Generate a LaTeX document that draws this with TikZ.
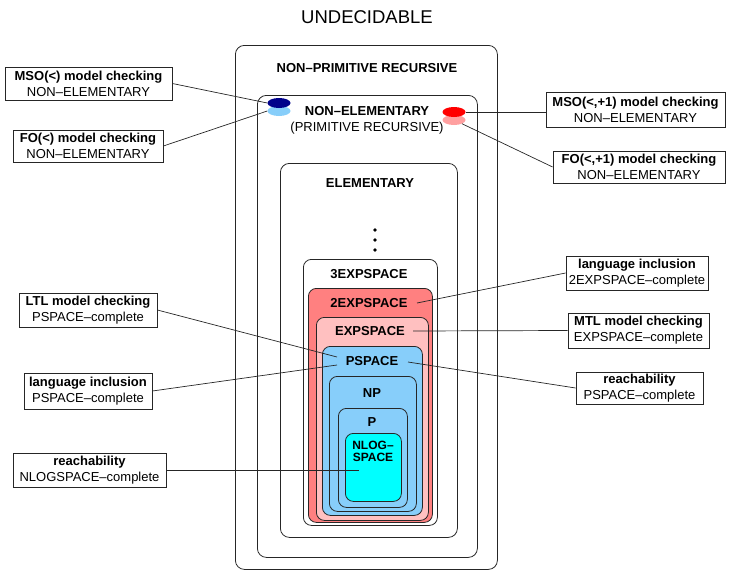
\documentclass[tikz,border=0pt]{standalone}
\usepackage{fontspec}
\setmainfont{Liberation Sans}
\usetikzlibrary{shapes.geometric}
\definecolor{exptwo}{HTML}{FF8080}
\definecolor{expone}{HTML}{FFC0C0}
\definecolor{pspc}{HTML}{87CEFA}
\definecolor{nlog}{HTML}{00FFFF}
\definecolor{msoblue}{HTML}{00008B}
\definecolor{foblue}{HTML}{87CEFA}
\definecolor{msored}{HTML}{FF0000}
\definecolor{fored}{HTML}{FFA0A0}
\begin{document}
\begin{tikzpicture}[x=1pt,y=-1pt,
  cls/.style={draw=black!85, line width=0.8pt, rounded corners=9pt,
              anchor=north west, inner sep=0pt},
  ttl/.style={font=\fontsize{13}{14}\selectfont\bfseries, inner sep=0pt},
  sub/.style={font=\fontsize{13}{14}\selectfont, inner sep=0pt},
  callout/.style={draw=black!85, line width=0.8pt, align=center,
                  font=\fontsize{13}{16}\selectfont, inner sep=0pt},
  dot/.style={ellipse, minimum width=23pt, minimum height=10pt, inner sep=0pt},
  link/.style={draw=black!85, line width=0.7pt}]

\useasboundingbox (0,0) rectangle (729,571);

% nested complexity classes
\node[cls, minimum width=262pt, minimum height=524pt] (npr) at (235,45) {};
\node[cls, minimum width=220pt, minimum height=462pt] (nel) at (257,95) {};
\node[cls, minimum width=177pt, minimum height=374pt] (elem) at (280,163) {};
\node[cls, minimum width=134pt, minimum height=266pt, rounded corners=8pt] (e3) at (303,259) {};
\node[cls, fill=exptwo, minimum width=124pt, minimum height=234pt, rounded corners=8pt] (e2) at (308,288) {};
\node[cls, fill=expone, minimum width=112pt, minimum height=203pt, rounded corners=8pt] (e1) at (316,317) {};
\node[cls, fill=pspc, minimum width=100pt, minimum height=169pt, rounded corners=8pt] (ps) at (322,346) {};
\node[cls, fill=pspc, minimum width=87pt, minimum height=135pt, rounded corners=8pt] (np) at (329,376) {};
\node[cls, fill=pspc, minimum width=69pt, minimum height=99pt, rounded corners=8pt] (pp) at (338,408) {};
\node[cls, fill=nlog, minimum width=56pt, minimum height=68pt, rounded corners=8pt] (nl) at (345,433) {};

% class titles
\node[font=\fontsize{18.5}{20}\selectfont, inner sep=0pt] (und) at (367,17) {UNDECIDABLE};
\node[ttl] (nprT) at (367,68) {NON–PRIMITIVE RECURSIVE};
\node[ttl] (nelT) at (367,111) {NON–ELEMENTARY};
\node[sub] (nelS) at (367,128) {(PRIMITIVE RECURSIVE)};
\node[ttl] (elemT) at (370,183) {ELEMENTARY};
\node[ttl] (e3T) at (369,274) {3EXPSPACE};
\node[ttl] (e2T) at (369,303) {2EXPSPACE};
\node[ttl] (e1T) at (370,331) {EXPSPACE};
\node[ttl] (psT) at (372,361) {PSPACE};
\node[ttl] (npT) at (372,393) {NP};
\node[ttl] (ppT) at (372,422) {P};
\node[ttl, font=\fontsize{12}{12}\selectfont\bfseries] (nlT1) at (373,445) {NLOG–};
\node[ttl, font=\fontsize{12}{12}\selectfont\bfseries] (nlT2) at (373,457) {SPACE};

% vertical ellipsis between ELEMENTARY and 3EXPSPACE
\foreach \yy/\nm in {230/da,240/db,250/dc}
  \node[circle, fill=black, minimum size=3.8pt, inner sep=0pt] (\nm) at (375,\yy) {};

% logic markers
\node[dot, fill=foblue] (foDot) at (279,111) {};
\node[dot, fill=msoblue] (msoDot) at (279,103) {};
\node[dot, fill=fored] (fo1Dot) at (454,120) {};
\node[dot, fill=msored] (mso1Dot) at (454,112) {};

% problem callouts
\node[callout, minimum width=167pt, minimum height=33pt] (mso) at (88.5,83.5)
  {\textbf{MSO(<) model checking}\\NON–ELEMENTARY};
\node[callout, minimum width=150pt, minimum height=32pt] (fo) at (88,146)
  {\textbf{FO(<) model checking}\\NON–ELEMENTARY};
\node[callout, minimum width=179pt, minimum height=35pt] (mso1) at (635.5,109.5)
  {\textbf{MSO(<,+1) model checking}\\NON–ELEMENTARY};
\node[callout, minimum width=172pt, minimum height=32pt] (fo1) at (639,167)
  {\textbf{FO(<,+1) model checking}\\NON–ELEMENTARY};
\node[callout, minimum width=142pt, minimum height=34pt] (lang2) at (637,273)
  {\textbf{language inclusion}\\2EXPSPACE–complete};
\node[callout, minimum width=141pt, minimum height=35pt] (mtl) at (638.5,330.5)
  {\textbf{MTL model checking}\\EXPSPACE–complete};
\node[callout, minimum width=127pt, minimum height=32pt] (reachps) at (639.5,388)
  {\textbf{reachability}\\PSPACE–complete};
\node[callout, minimum width=138pt, minimum height=34pt] (ltl) at (88,310)
  {\textbf{LTL model checking}\\PSPACE–complete};
\node[callout, minimum width=128pt, minimum height=36pt] (langps) at (88,391)
  {\textbf{language inclusion}\\PSPACE–complete};
\node[callout, minimum width=153pt, minimum height=34pt] (reachnl) at (89.5,470)
  {\textbf{reachability}\\NLOGSPACE–complete};

% anchor points inside the classes
\coordinate (e2P) at (417,303);
\coordinate (e1P) at (413,331);
\coordinate (psR) at (408,362);
\coordinate (psL1) at (337,357);
\coordinate (psL2) at (337,365);
\coordinate (nlP) at (359,470);

% connectors
\draw[link] (mso.east) -- (msoDot.west);
\draw[link] (fo.east) -- (foDot.west);
\draw[link] (mso1Dot.east) -- (mso1Dot.east -| mso1.west);
\draw[link] (fo1Dot.-25) -- (fo1.west);
\draw[link] (e2P) -- (lang2.west);
\draw[link] (e1P) -- (mtl.west);
\draw[link] (psR) -- (reachps.west);
\draw[link] (ltl.east) -- (psL1);
\draw[link] (langps.east) -- (psL2);
\draw[link] (reachnl.east) -- (nlP);
\end{tikzpicture}
\end{document}
